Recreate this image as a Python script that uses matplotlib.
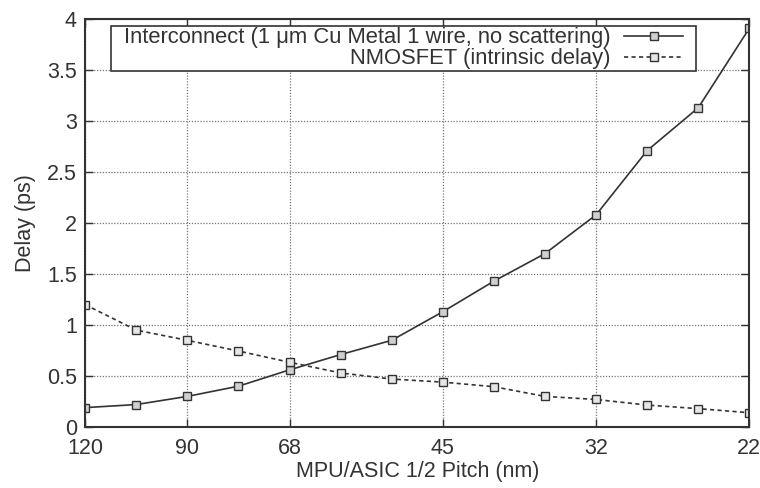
import numpy as np
import matplotlib
matplotlib.use("Agg")
import matplotlib.pyplot as plt
from matplotlib.patches import Rectangle
from matplotlib.ticker import MultipleLocator, FormatStrFormatter

plt.rcParams['font.family'] = ['Liberation Sans', 'DejaVu Sans']

# nodos (indice) y etiquetas del eje x
tick_idx = [0, 2, 4, 7, 10, 13]
tick_labels = ['120', '90', '68', '45', '32', '22']

# retardos (ps), 14 nodos
interconnect = [0.19, 0.22, 0.30, 0.40, 0.56, 0.71, 0.85, 1.13, 1.43, 1.70, 2.08, 2.71, 3.13, 3.91]
nmosfet = [1.20, 0.95, 0.85, 0.745, 0.635, 0.53, 0.47, 0.44, 0.395, 0.30, 0.27, 0.215, 0.18, 0.14]

x = np.arange(len(interconnect))
color = '#333333'

fig = plt.figure(figsize=(7.6, 4.88), dpi=100)
ax = fig.add_axes([0.112, 0.125, 0.874, 0.836])

ax.plot(x, interconnect, '-', color=color, lw=1.2, marker='s', ms=6,
        mfc='#d0d0d0', mec=color, mew=1.0,
        label='Interconnect (1 \u03bcm Cu Metal 1 wire, no scattering)')
ax.plot(x, nmosfet, color=color, lw=1.2, ls=(0, (2.5, 2)), marker='s', ms=6,
        mfc='#e6e6e6', mec=color, mew=1.0,
        label='NMOSFET (intrinsic delay)')

ax.set_xlim(0, 13)
ax.set_ylim(0, 4)
ax.set_xticks(tick_idx)
ax.set_xticklabels(tick_labels)
ax.yaxis.set_major_locator(MultipleLocator(0.5))
ax.yaxis.set_major_formatter(FormatStrFormatter('%g'))

ax.grid(True, color='#777777', ls=(0, (1, 1.3)), lw=0.9)
ax.tick_params(direction='in', length=6, width=1, top=True, right=True,
               labelsize=15.5, colors=color)
ax.tick_params(axis='x', pad=8)
ax.tick_params(axis='y', pad=6)
for s in ax.spines.values():
    s.set_linewidth(1.5)
    s.set_color(color)

ax.set_xlabel('MPU/ASIC 1/2 Pitch (nm)', fontsize=15.5, color=color, labelpad=1)
ax.set_ylabel('Delay (ps)', fontsize=15.5, color=color, labelpad=8)

# caja de la leyenda estilo gnuplot
ax.add_patch(Rectangle((0.039, 0.873), 0.881, 0.110, transform=ax.transAxes,
                       facecolor='white', edgecolor=color, lw=1.2, zorder=4))
leg = ax.legend(loc='upper right', bbox_to_anchor=(0.9036, 0.985), markerfirst=False,
                fontsize=15.8, frameon=False, handlelength=2.7,
                borderpad=0.1, labelspacing=0.0, handletextpad=0.6,
                borderaxespad=0)
leg.set_zorder(5)
for t in leg.get_texts():
    t.set_color(color)

fig.savefig('out.png', dpi=100)
